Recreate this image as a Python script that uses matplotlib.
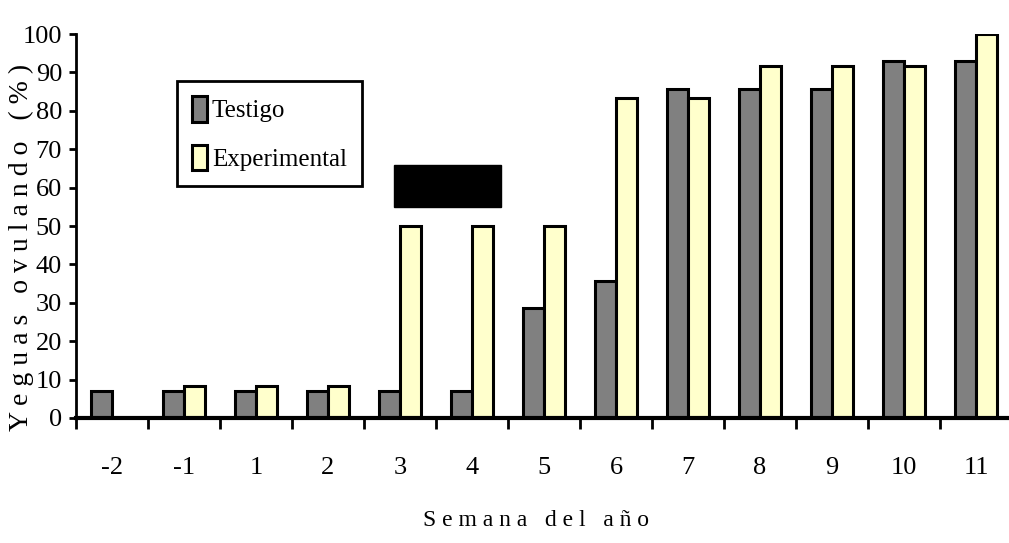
import matplotlib
matplotlib.use("Agg")
import matplotlib.pyplot as plt
from matplotlib.patches import Rectangle
import numpy as np

# data
weeks = ["-2", "-1", "1", "2", "3", "4", "5", "6", "7", "8", "9", "10", "11"]
testigo = [7.1, 7.1, 7.1, 7.1, 7.1, 7.1, 28.6, 35.7, 85.7, 85.7, 85.7, 92.9, 92.9]
experimental = [0, 8.3, 8.3, 8.3, 50, 50, 50, 83.3, 83.3, 91.7, 91.7, 91.7, 100]
y_ticks = [0, 10, 20, 30, 40, 50, 60, 70, 80, 90, 100]

# treatment period marker (weeks 3-4)
treat_weeks = ("3", "4")
treat_y = (55, 66)

plt.rcParams['font.family'] = ['Liberation Serif', 'DejaVu Serif']

W, H = 1009, 543
fig = plt.figure(figsize=(W / 100, H / 100), dpi=100)
ax = fig.add_axes([76 / W, 1 - 418 / H, (W - 76) / W, (418 - 34) / H])

x = np.arange(len(weeks))
bw = 0.29
b1 = ax.bar(x - bw / 2, testigo, bw, color="#808080", edgecolor="black",
            linewidth=2.2, label="Testigo", zorder=3)
b2 = ax.bar(x + bw / 2, experimental, bw, color="#FFFFCC", edgecolor="black",
            linewidth=2.2, label="Experimental", zorder=3)

# black block over the treatment weeks
i0, i1 = weeks.index(treat_weeks[0]), weeks.index(treat_weeks[1])
ax.add_patch(Rectangle((i0 - 0.08, treat_y[0]), (i1 + 0.40) - (i0 - 0.08),
                       treat_y[1] - treat_y[0], facecolor="black",
                       edgecolor="black", zorder=4))

ax.set_xlim(-0.5, -0.5 + (W - 76) / 72)
ax.set_ylim(0, 100)

for s in ["top", "right"]:
    ax.spines[s].set_visible(False)
ax.spines["left"].set_linewidth(2)
ax.spines["bottom"].set_linewidth(3)
ax.spines["bottom"].set_zorder(5)

ax.set_yticks(y_ticks)
ax.set_yticklabels([str(v) for v in y_ticks], fontsize=19)
ax.tick_params(axis="y", direction="out", length=5, width=2, pad=5)

# ticks between categories, labels centred
ax.set_xticks(np.arange(len(weeks)) - 0.5)
ax.set_xticklabels([])
ax.tick_params(axis="x", which="major", direction="out", length=8, width=2)
ax.set_xticks(x, minor=True)
ax.set_xticklabels(weeks, minor=True, fontsize=19)
ax.tick_params(axis="x", which="minor", length=0, pad=28)

fig.text(21 / W, 1 - 247 / H, "Y e g u a s   o v u l a n d o   ( % )",
         rotation=90, ha="center", va="center", fontsize=20)
fig.text(536 / W, 1 - 521 / H, "S e m a n a   d e l   a ñ o",
         ha="center", va="center", fontsize=17)

leg = ax.legend(handles=[b1, b2], loc="upper left",
                bbox_to_anchor=(177 / W, 1 - 81 / H),
                bbox_transform=fig.transFigure, borderaxespad=0,
                fancybox=False, framealpha=1, edgecolor="black",
                fontsize=18, handlelength=0.6, handleheight=1.2,
                handletextpad=0.2, labelspacing=0.9, borderpad=0.6)
leg.get_frame().set_linewidth(2)

fig.savefig("out.png", dpi=100)
